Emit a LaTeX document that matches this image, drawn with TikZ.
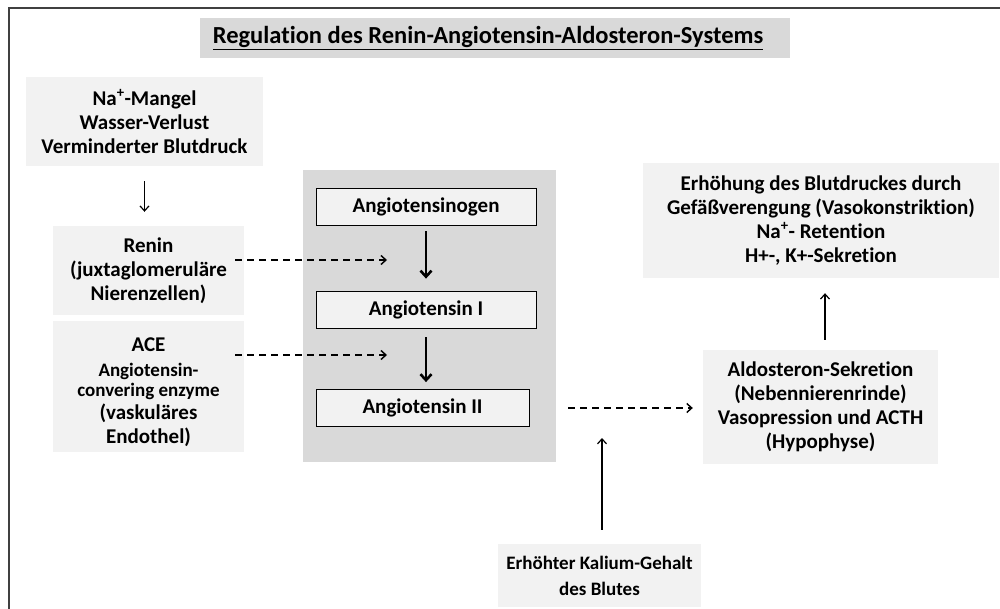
\documentclass[tikz,border=0pt]{standalone}
\usepackage{fontspec}
\setmainfont{Carlito}[Ligatures={TeX,NoCommon}]
\usepackage{xcolor}
\usetikzlibrary{arrows.meta}

\definecolor{lightbox}{HTML}{F2F2F2}
\definecolor{panelgrey}{HTML}{D9D9D9}
\definecolor{framegrey}{HTML}{404040}

\newcommand{\minitext}[1]{{\fontsize{19}{24}\selectfont #1}}

\tikzset{
  infobox/.style={fill=lightbox, inner sep=0pt, align=center, font=\bfseries},
  stagebox/.style={infobox, draw=black, line width=0.8pt},
  thinarrow/.style={-{Straight Barb[length=5pt,width=9pt]}, line width=1.2pt},
  thickarrow/.style={-{Straight Barb[length=6pt,width=11pt]}, line width=2.6pt},
  dasharrow/.style={-{Straight Barb[length=5pt,width=9pt]}, line width=1.4pt, dash pattern=on 7pt off 5pt}
}

\begin{document}
\begin{tikzpicture}[x=1pt,y=-1pt]
\fontsize{21}{24}\selectfont
\useasboundingbox (0,0) rectangle (1000,609);
\draw[framegrey, line width=1.5pt] (9,610) -- (9,8) -- (1001,8);

% title
\node[fill=panelgrey, minimum width=590pt, minimum height=40pt, font=\bfseries\fontsize{24.5}{28}\selectfont] (title) at (495,38)
  {\underline{Regulation des Renin-Angiotensin-Aldosteron-Systems}\hspace*{14pt}};

% left column
\node[infobox, minimum width=237pt, minimum height=89pt] (na) at (144.5,121.5)
  {Na\textsuperscript{+}-Mangel\\Wasser-Verlust\\Verminderter Blutdruck};
\node[infobox, minimum width=191pt, minimum height=89pt] (renin) at (148.5,270.5)
  {Renin\\(juxtaglomeruläre\\Nierenzellen)};
\node[infobox, minimum width=191pt, minimum height=131pt] (ace) at (148.5,386.5)
  {\rule{0pt}{25pt}ACE\\[1pt]\minitext{Angiotensin-}\\[-4pt]\minitext{convering enzyme}\\[-1pt](vaskuläres\\Endothel)};

% cascade panel
\node[fill=panelgrey, minimum width=253pt, minimum height=292pt] (panel) at (429.5,316) {};
\node[stagebox, minimum width=220pt, minimum height=37pt] (agen) at (426,206.5) {Angiotensinogen};
\node[stagebox, minimum width=220pt, minimum height=37pt] (ang1) at (426,309.5) {Angiotensin I};
\node[stagebox, minimum width=213pt, minimum height=37pt] (ang2) at (422.5,408) {Angiotensin II};
\coordinate (k1) at (426,260);
\coordinate (k2) at (426,355);

% right side
\node[infobox, minimum width=356pt, minimum height=115pt] (effect) at (821,220.5)
  {Erhöhung des Blutdruckes durch\\Gefäßverengung (Vasokonstriktion)\\Na\textsuperscript{+}- Retention\\H+-, K+-Sekretion};
\node[infobox, minimum width=235pt, minimum height=114pt] (aldo) at (820.5,407)
  {Aldosteron-Sekretion\\(Nebennierenrinde)\\Vasopression und ACTH\\(Hypophyse)};
\node[infobox, minimum width=203pt, minimum height=63pt, font=\bfseries\fontsize{19}{26}\selectfont] (kalium) at (599.5,575.5)
  {Erhöhter Kalium-Gehalt\\des Blutes};
\coordinate (kend) at (602,438);
\coordinate (upx) at (825,0);

% arrows
\draw[thinarrow, shorten <=15pt, shorten >=14pt] (na.south) -- (na.south |- renin.north);
\draw[thickarrow, shorten <=6pt, shorten >=12pt] (agen.south) -- (ang1.north);
\draw[thickarrow, shorten <=9pt, shorten >=7pt] (ang1.south) -- (ang2.north -| ang1.south);
\draw[dasharrow] ([xshift=-9pt]renin.east |- k1) -- ([xshift=-39pt]k1);
\draw[dasharrow] ([xshift=-9pt]ace.east |- k2) -- ([xshift=-39pt]k2);
\draw[dasharrow] ([xshift=12pt]panel.east |- ang2) -- ([xshift=-10pt]aldo.west |- ang2);
\draw[thinarrow, shorten <=10pt, shorten >=15pt] (aldo.north -| upx) -- (effect.south -| upx);
\draw[thinarrow, shorten <=14pt] (kalium.north -| kend) -- (kend);
\end{tikzpicture}
\end{document}
